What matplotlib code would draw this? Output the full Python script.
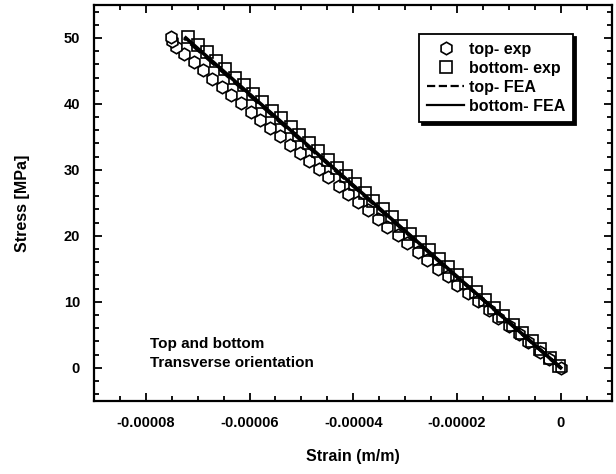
import matplotlib
matplotlib.use("Agg")
import matplotlib.pyplot as plt
from matplotlib.ticker import MultipleLocator, FuncFormatter

plt.rcParams['font.family'] = ['Liberation Sans', 'DejaVu Sans']
plt.rcParams['font.weight'] = 'bold'

# experimental data, top gauge (strain in m/m, stress in MPa)
top_exp_stress = [0.0, 1.3, 2.4, 3.9, 5.1, 6.3, 7.6, 8.8, 10.1, 11.3, 12.6, 13.9,
                  15.0, 16.4, 17.6, 18.9, 20.1, 21.4, 22.6, 23.9, 25.1, 26.4, 27.6,
                  28.9, 30.1, 31.4, 32.5, 33.8, 35.1, 36.3, 37.6, 38.8, 40.1, 41.4,
                  42.6, 43.8, 45.1, 46.3, 47.5, 48.6, 49.5, 50.1]
top_exp_strain = [0.0, -2.2, -3.9, -6.3, -8.1, -10.0, -12.1, -13.9, -16.0, -17.9,
                  -19.9, -21.8, -23.6, -25.7, -27.5, -29.6, -31.4, -33.4, -35.2,
                  -37.2, -39.1, -41.0, -42.8, -44.8, -46.6, -48.6, -50.3, -52.2,
                  -54.2, -56.0, -58.0, -59.7, -61.6, -63.6, -65.3, -67.2, -69.0,
                  -70.8, -72.6, -74.2, -75.0, -75.1]

# experimental data, bottom gauge
bottom_exp_stress = [0.3, 1.5, 2.8, 4.0, 5.3, 6.5, 7.8, 9.0, 10.3, 11.5, 12.8, 14.0,
                     15.3, 16.5, 17.8, 19.0, 20.3, 21.5, 22.8, 24.0, 25.3, 26.5, 27.8,
                     29.0, 30.3, 31.5, 32.8, 34.0, 35.3, 36.5, 37.8, 39.0, 40.3, 41.5,
                     42.8, 44.0, 45.3, 46.5, 47.8, 49.0, 50.2]
bottom_exp_strain = [-0.3, -2.0, -3.9, -5.6, -7.5, -9.2, -11.1, -12.8, -14.6, -16.4,
                     -18.2, -19.9, -21.8, -23.5, -25.3, -27.1, -29.0, -30.7, -32.5,
                     -34.3, -36.1, -37.8, -39.7, -41.4, -43.2, -44.9, -46.8, -48.5,
                     -50.4, -52.1, -54.0, -55.7, -57.6, -59.3, -61.1, -62.9, -64.7,
                     -66.4, -68.3, -70.0, -71.8]

# FEA results
top_fea_stress = [0.0, 50.0]
top_fea_strain = [0.0, -72.6]
bottom_fea_stress = [0.0, 50.0]
bottom_fea_strain = [0.0, -72.3]

scale = 1e-6  # strain values above are in microstrain

fig = plt.figure(figsize=(6.16, 4.74), dpi=100)
ax = fig.add_axes([0.1526, 0.1546, 0.8417, 0.8349])

ax.plot([s * scale for s in top_exp_strain], top_exp_stress, linestyle='none',
        marker='h', ms=9, mfc='white', mec='black', mew=1.2, label='top- exp')
ax.plot([s * scale for s in bottom_exp_strain], bottom_exp_stress, linestyle='none',
        marker='s', ms=8.5, mfc='none', mec='black', mew=1.2, label='bottom- exp')
ax.plot([s * scale for s in top_fea_strain], top_fea_stress, color='black',
        linestyle='--', lw=2.6, label='top- FEA')
ax.plot([s * scale for s in bottom_fea_strain], bottom_fea_stress, color='black',
        linestyle='-', lw=2.6, label='bottom- FEA')

ax.set_xlim(-0.00009, 0.00001)
ax.set_ylim(-5, 55)
ax.xaxis.set_major_locator(MultipleLocator(0.00002))
ax.xaxis.set_minor_locator(MultipleLocator(0.000005))
ax.yaxis.set_major_locator(MultipleLocator(10))
ax.yaxis.set_minor_locator(MultipleLocator(2))
ax.xaxis.set_major_formatter(FuncFormatter(lambda v, p: '0' if abs(v) < 1e-12 else '%.5f' % v))

for side in ax.spines.values():
    side.set_linewidth(1.6)
ax.tick_params(which='both', direction='in', top=True, right=True, width=1.3)
ax.tick_params(which='major', length=6)
ax.tick_params(which='minor', length=3.5)
ax.tick_params(axis='x', which='major', labelsize=10.5, pad=11)
ax.tick_params(axis='y', which='major', labelsize=10.5, pad=10)

ax.set_xlabel('Strain (m/m)', fontsize=11.5, fontweight='bold', labelpad=14)
ax.set_ylabel('Stress [MPa]', fontsize=11.5, fontweight='bold', labelpad=24)

ax.text(-0.0000792, -0.4, 'Top and bottom\nTransverse orientation', fontsize=11,
        fontweight='bold', ha='left', va='bottom', linespacing=1.45)

leg = ax.legend(loc='upper right', bbox_to_anchor=(0.924, 0.927), numpoints=1,
                fancybox=False, framealpha=1, edgecolor='black',
                shadow={'color': 'black', 'alpha': 1}, fontsize=11.5,
                handlelength=2.3, handletextpad=0.3, labelspacing=0.25,
                borderpad=0.5, borderaxespad=0)
leg.get_frame().set_linewidth(1.3)
for h in leg.legend_handles[2:]:
    h.set_linewidth(1.6)

fig.savefig('out.png', dpi=100)
